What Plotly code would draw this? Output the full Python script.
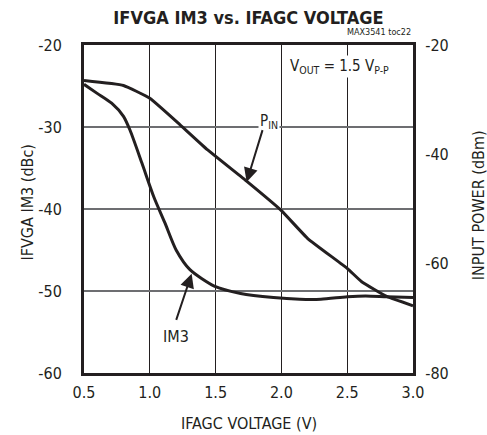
import plotly.graph_objects as go

# IFAGC voltage (V) and IFVGA IM3 (dBc), left axis
im3_x = [0.5, 0.6, 0.71, 0.8, 0.85, 0.94, 1.03, 1.115, 1.2, 1.305, 1.49, 1.69, 1.94, 2.14, 2.3, 2.5, 2.64, 2.8, 3.0]
im3_y = [-24.8, -25.9, -27.1, -28.7, -30.4, -34.4, -38.5, -41.7, -45.0, -47.4, -49.4, -50.3, -50.8, -51.0, -51.0, -50.7, -50.6, -50.7, -50.8]

# IFAGC voltage (V) and input power (dBm), right axis
pin_x = [0.5, 0.8, 1.0, 1.23, 1.44, 1.74, 2.0, 2.2, 2.5, 2.61, 2.8, 3.0]
pin_y = [-26.5, -27.4, -29.75, -34.6, -39.2, -45.0, -50.3, -55.4, -60.85, -63.3, -66.0, -67.7]

x_ticks = [0.5, 1.0, 1.5, 2.0, 2.5, 3.0]
x_tick_labels = ["0.5", "1.0", "1.5", "2.0", "2.5", "3.0"]
y_ticks = [-60, -50, -40, -30, -20]
y_tick_labels = ["-60", "-50", "-40", "-30", "-20"]
y2_ticks = [-80, -60, -40, -20]
y2_tick_labels = ["-80", "-60", "-40", "-20"]

FONT = "DejaVu Sans Condensed, DejaVu Sans, sans-serif"
INK = "#231f20"

fig = go.Figure()
fig.add_trace(go.Scatter(x=im3_x, y=im3_y, mode="lines",
                         line=dict(color=INK, width=3, shape="spline", smoothing=0.7),
                         showlegend=False, hoverinfo="skip"))
fig.add_trace(go.Scatter(x=pin_x, y=pin_y, mode="lines", yaxis="y2",
                         line=dict(color=INK, width=3, shape="spline", smoothing=0.35),
                         showlegend=False, hoverinfo="skip"))

fig.update_layout(
    width=487, height=435,
    margin=dict(l=84, r=74, t=45, b=62, autoexpand=False),
    paper_bgcolor="white", plot_bgcolor="rgba(0,0,0,0)",
    font=dict(family=FONT, size=16, color=INK),
    xaxis=dict(range=[0.5, 3.0], tickvals=x_ticks, ticktext=x_tick_labels,
               showgrid=True, gridcolor="#231f20", gridwidth=1,
               showline=True, linecolor=INK, linewidth=3, mirror=True,
               ticks="outside", ticklen=3, tickcolor="rgba(0,0,0,0)",
               zeroline=False, automargin=False),
    yaxis=dict(range=[-60, -20], tickvals=y_ticks, ticktext=y_tick_labels,
               showgrid=True, gridcolor="#6d6e71", gridwidth=1.5,
               showline=True, linecolor=INK, linewidth=3, mirror=True,
               ticks="outside", ticklen=16, tickcolor="rgba(0,0,0,0)",
               zeroline=False, automargin=False),
    yaxis2=dict(range=[-80, -20], tickvals=y2_ticks, ticktext=y2_tick_labels,
                overlaying="y", side="right",
                showgrid=False, zeroline=False, automargin=False,
                ticks="outside", ticklen=8, tickcolor="rgba(0,0,0,0)"),
    title=dict(text="<b>IFVGA IM3 vs. IFAGC VOLTAGE</b>", x=0.5, xref="paper", xanchor="center",
               y=1 - 18 / 435, yanchor="middle", font=dict(family=FONT, size=18, color=INK)),
)

# axis titles
fig.add_annotation(text="IFAGC VOLTAGE (V)", xref="paper", yref="paper", x=0.5, y=-0.155,
                   xanchor="center", yanchor="middle", showarrow=False, font=dict(size=16))
fig.add_annotation(text="IFVGA IM3 (dBc)", xref="paper", yref="paper", x=-0.173, y=0.52,
                   xanchor="center", yanchor="middle", textangle=-90, showarrow=False,
                   font=dict(size=16))
fig.add_annotation(text="INPUT POWER (dBm)", xref="paper", yref="paper", x=1.198, y=0.512,
                   xanchor="center", yanchor="middle", textangle=-90, showarrow=False,
                   font=dict(size=16))

fig.add_annotation(text="MAX3541 toc22", xref="paper", yref="paper", x=1.0, y=1.0,
                   xanchor="right", yanchor="bottom", yshift=6, showarrow=False,
                   font=dict(size=9))
fig.add_annotation(text="V<sub>OUT</sub> = 1.5 V<sub>P-P</sub>", x=2.445, y=-22.6,
                   showarrow=False, bgcolor="white", font=dict(size=15))
fig.add_annotation(text="P<sub>IN</sub>", x=1.906, y=-29.3, showarrow=False,
                   bgcolor="white", font=dict(size=15))
fig.add_annotation(text="IM3", x=1.2, y=-55.5, showarrow=False, font=dict(size=16))
fig.add_annotation(text="", x=1.736, y=-36.7, ax=1.86, ay=-30.2, axref="x", ayref="y",
                   showarrow=True, arrowhead=2, arrowsize=1.4, arrowwidth=2, arrowcolor=INK)
fig.add_annotation(text="", x=1.318, y=-47.9, ax=1.197, ay=-53.7, axref="x", ayref="y",
                   showarrow=True, arrowhead=2, arrowsize=1.4, arrowwidth=2, arrowcolor=INK)

fig.write_html("out.html", config={"displayModeBar": False},
               post_script="document.body.style.margin='0';")
